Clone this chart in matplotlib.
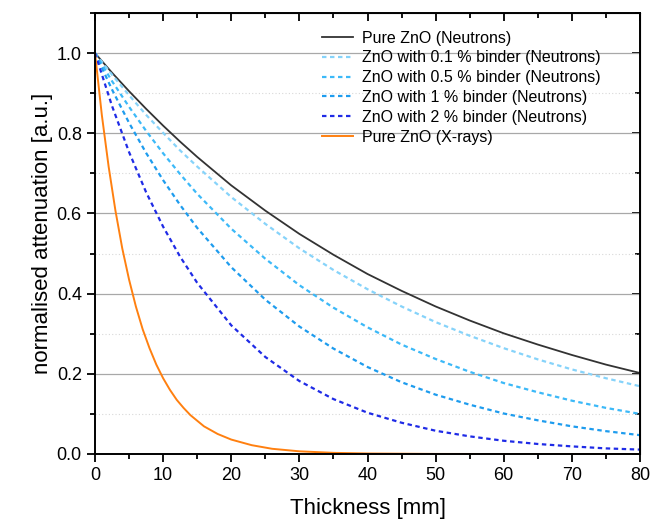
import matplotlib

matplotlib.use("Agg")
import matplotlib.pyplot as plt
from matplotlib.ticker import MultipleLocator

plt.rcParams["font.family"] = ["Liberation Sans", "DejaVu Sans"]

# thickness grid (mm) for the neutron curves
x_n = [0, 2.5, 5, 7.5, 10, 12.5, 15, 20, 25, 30, 35, 40, 45, 50, 55, 60, 65, 70, 75, 80]
pure_n = [1.000, 0.951, 0.905, 0.861, 0.819, 0.779, 0.741, 0.670, 0.607, 0.549,
          0.497, 0.449, 0.407, 0.368, 0.333, 0.301, 0.273, 0.247, 0.223, 0.202]
binder_01 = [1.000, 0.946, 0.895, 0.846, 0.801, 0.757, 0.717, 0.641, 0.574, 0.513,
             0.459, 0.411, 0.368, 0.329, 0.295, 0.264, 0.236, 0.211, 0.189, 0.169]
binder_05 = [1.000, 0.930, 0.866, 0.806, 0.750, 0.698, 0.649, 0.562, 0.487, 0.421,
             0.365, 0.316, 0.273, 0.237, 0.205, 0.177, 0.154, 0.133, 0.115, 0.100]
binder_1 = [1.000, 0.909, 0.826, 0.751, 0.683, 0.621, 0.564, 0.466, 0.385, 0.318,
            0.263, 0.217, 0.179, 0.148, 0.123, 0.101, 0.084, 0.069, 0.057, 0.047]
binder_2 = [1.000, 0.868, 0.753, 0.653, 0.567, 0.492, 0.427, 0.321, 0.242, 0.182,
            0.137, 0.103, 0.078, 0.058, 0.044, 0.033, 0.025, 0.019, 0.014, 0.011]

# X-ray curve falls fast, so it is read on a finer grid near zero
x_x = [0, 1, 2, 3, 4, 5, 6, 7, 8, 9, 10, 11, 12, 13, 14, 16, 18, 20, 23, 26, 30,
       35, 40, 50, 60, 70, 80]
pure_x = [1.000, 0.846, 0.717, 0.607, 0.513, 0.435, 0.368, 0.311, 0.264, 0.223,
          0.189, 0.160, 0.135, 0.115, 0.097, 0.069, 0.050, 0.036, 0.022, 0.013,
          0.0067, 0.0029, 0.0013, 0.0002, 0.0, 0.0, 0.0]

neutron_series = [
    ("ZnO with 0.1 % binder (Neutrons)", binder_01, "#86D3FA"),
    ("ZnO with 0.5 % binder (Neutrons)", binder_05, "#3CB9F8"),
    ("ZnO with 1 % binder (Neutrons)", binder_1, "#1E9CEE"),
    ("ZnO with 2 % binder (Neutrons)", binder_2, "#1F2BE6"),
]

fig = plt.figure(figsize=(6.53, 5.21), dpi=100)
ax = fig.add_axes([95 / 653, 67 / 521, 545 / 653, 441 / 521])

ax.plot(x_n, pure_n, color="#333333", lw=1.3, label="Pure ZnO (Neutrons)")
for label, vals, col in neutron_series:
    ax.plot(x_n, vals, color=col, lw=1.6, ls=(0, (2, 1.6)), label=label)
ax.plot(x_x, pure_x, color="#FF8010", lw=1.4, label="Pure ZnO (X-rays)")

ax.set_xlim(0, 80)
ax.set_ylim(0, 1.1)
ax.xaxis.set_major_locator(MultipleLocator(10))
ax.xaxis.set_minor_locator(MultipleLocator(5))
ax.yaxis.set_major_locator(MultipleLocator(0.2))
ax.yaxis.set_minor_locator(MultipleLocator(0.1))
ax.yaxis.set_major_formatter(lambda v, _: f"{v:.1f}")

ax.grid(axis="y", which="major", color="#a8a8a8", lw=0.9)
ax.grid(axis="y", which="minor", color="#d8d8d8", lw=0.8, ls=(0, (1, 2)))
ax.set_axisbelow(True)

for s in ax.spines.values():
    s.set_linewidth(1.4)
ax.tick_params(which="both", direction="out", width=1.3, labelsize=13)
ax.tick_params(which="major", length=6)
ax.tick_params(which="minor", length=3.5)

# Origin-style inward ticks on the opposite axes
top = ax.secondary_xaxis("top")
top.xaxis.set_major_locator(MultipleLocator(10))
top.xaxis.set_minor_locator(MultipleLocator(5))
top.tick_params(which="both", direction="in", width=1.3, labeltop=False)
top.tick_params(which="major", length=6)
top.tick_params(which="minor", length=3.5)
right = ax.secondary_yaxis("right")
right.yaxis.set_major_locator(MultipleLocator(0.2))
right.yaxis.set_minor_locator(MultipleLocator(0.1))
right.tick_params(which="both", direction="in", width=1.3, labelright=False)
right.tick_params(which="major", length=6)
right.tick_params(which="minor", length=3.5)

ax.set_xlabel("Thickness [mm]", fontsize=16, labelpad=10)
ax.set_ylabel("normalised attenuation [a.u.]", fontsize=16, labelpad=3)

ax.legend(loc="upper left", bbox_to_anchor=(0.4165, 0.96), frameon=False,
          fontsize=11.5, handlelength=1.95, handletextpad=0.56, labelspacing=0.3,
          borderaxespad=0, borderpad=0)

fig.savefig("out.png", dpi=100)
